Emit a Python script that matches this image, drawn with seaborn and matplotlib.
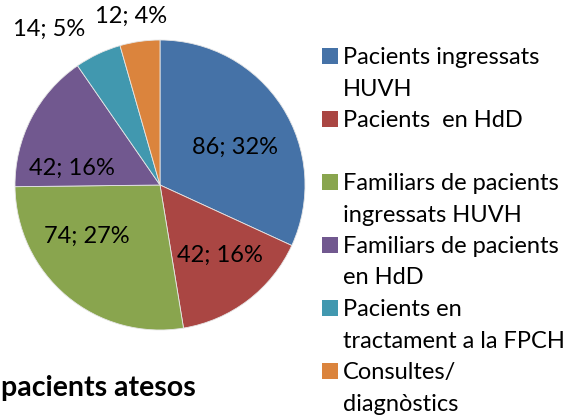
import numpy as np
import matplotlib.pyplot as plt
import seaborn as sns
from matplotlib.patches import Rectangle

# data
categories = ["Pacients ingressats\nHUVH", "Pacients  en HdD\n",
              "Familiars de pacients\ningressats HUVH", "Familiars de pacients\nen HdD",
              "Pacients en\ntractament a la FPCH", "Consultes/\ndiagnòstics"]
values = [86, 42, 74, 42, 14, 12]
colors = ["#4572A7", "#AA4643", "#89A54E", "#71588F", "#4198AF", "#DB843D"]

# label placement (Excel "best fit" look): distance from centre and clockwise shift in degrees
label_dist = [0.58, 0.64, 0.62, 0.62, 1.32, 1.18]
label_shift = [5.7, -3.3, 14.9, -16.5, -10.1, -1.7]

sns.set_theme(style="white")
plt.rcParams['font.family'] = ['Lato', 'DejaVu Sans']

W, H = 585, 415
fig = plt.figure(figsize=(W / 100, H / 100), dpi=100)
ax = fig.add_axes([15 / W, (H - 330) / H, 290 / W, 290 / H])

wedges, _ = ax.pie(values, colors=colors, startangle=90, counterclock=False,
                   wedgeprops=dict(edgecolor="#e6e6e6", linewidth=0.6))
ax.set_xlim(-1, 1)
ax.set_ylim(-1, 1)
ax.set_aspect("equal")

total = sum(values)
for w, v, d, s in zip(wedges, values, label_dist, label_shift):
    mid = (w.theta1 + w.theta2) / 2 - s
    a = np.deg2rad(mid)
    pct = round(100 * v / total)
    ax.text(d * np.cos(a), d * np.sin(a), f"{v}; {pct}%", ha="center", va="center",
            fontsize=17, color="black")

# legend drawn by hand so the square sits on the first line of each entry
base0 = 64      # baseline of first legend line, px from top
line_h = 31.5
sq = 16
k = 0
for lab, c in zip(categories, colors):
    y = base0 + k * line_h
    fig.patches.append(Rectangle((322 / W, 1 - y / H), sq / W, sq / H,
                                 transform=fig.transFigure, facecolor=c, edgecolor="none"))
    for line in lab.split("\n"):
        yl = base0 + k * line_h
        if line:
            fig.text(343 / W, 1 - yl / H, line, ha="left", va="baseline",
                     fontsize=17, color="black")
        k += 1

# title in the bottom-left corner
fig.text(1 / W, 1 - 396 / H, "pacients atesos", ha="left", va="baseline",
         fontsize=20.5, fontweight="bold", color="black")

fig.savefig("out.png", dpi=100)
